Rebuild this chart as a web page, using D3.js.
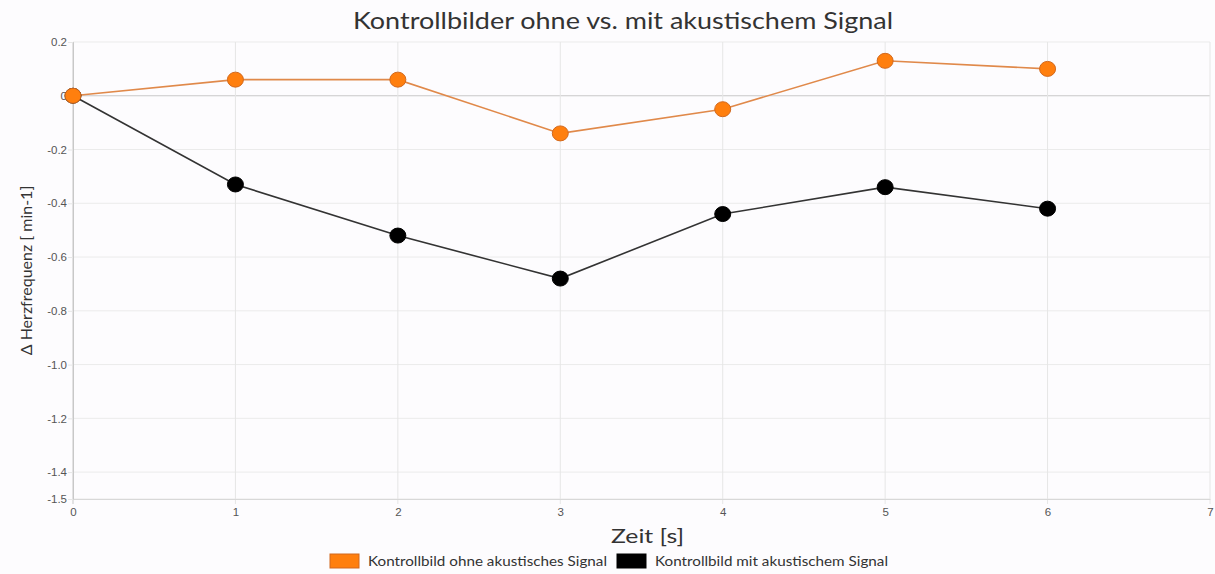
<!DOCTYPE html>
<html>
<head>
<meta charset="utf-8">
<script src="https://cdn.jsdelivr.net/npm/d3@7"></script>
<style>
  body { margin: 0; background: #fdfcfe; }
  svg { font-family: Lato, "Open Sans", sans-serif; }
</style>
</head>
<body>
<div id="chart"></div>
<script>
const width = 1215;
const height = 574;

const zeit = [0, 1, 2, 3, 4, 5, 6];
const ohneSignal = [0, 0.06, 0.06, -0.14, -0.05, 0.13, 0.10];
const mitSignal = [0, -0.33, -0.52, -0.68, -0.44, -0.34, -0.42];
const yTicks = [0.2, 0, -0.2, -0.4, -0.6, -0.8, -1.0, -1.2, -1.4, -1.5];
const yTickLabels = ["0.2", "0", "-0.2", "-0.4", "-0.6", "-0.8", "-1.0", "-1.2", "-1.4", "-1.5"];
const xTicks = [0, 1, 2, 3, 4, 5, 6, 7];

const series = [
    {name: "Kontrollbild ohne akustisches Signal", values: ohneSignal, fill: "#ff7f0e", stroke: "#d2691e", line: "#e0894a", textLen: 239},
    {name: "Kontrollbild mit akustischem Signal", values: mitSignal, fill: "#000000", stroke: "#000000", line: "#333333", textLen: 233}
];

const margin = {top: 42, right: 5, bottom: 75, left: 73};

const x = d3.scaleLinear().domain([0, 7]).range([margin.left, width - margin.right]);
const y = d3.scaleLinear().domain([-1.5, 0.2]).range([height - margin.bottom, margin.top]);

const svg = d3.select('#chart')
    .append('svg')
    .attr('width', width)
    .attr('height', height);

// grid
svg.append('g')
    .selectAll('line')
    .data(yTicks)
    .enter().append('line')
    .attr('x1', x(0)).attr('x2', x(7))
    .attr('y1', d => y(d)).attr('y2', d => y(d))
    .attr('stroke', d => d === 0 ? '#c8c8c8' : '#ebebeb')
    .attr('stroke-width', 1);

svg.append('g')
    .selectAll('line')
    .data(xTicks)
    .enter().append('line')
    .attr('x1', d => x(d)).attr('x2', d => x(d))
    .attr('y1', y(0.2)).attr('y2', y(-1.5) + 5)
    .attr('stroke', d => d === 0 ? '#c8c8c8' : '#e6e6e6');

// axes
const yAxis = d3.axisLeft(y)
    .tickValues(yTicks)
    .tickFormat((d, i) => yTickLabels[i])
    .tickSize(5);
svg.append('g')
    .attr('transform', `translate(${x(0)},0)`)
    .call(yAxis)
    .call(g => g.select('.domain').attr('stroke', '#c8c8c8'))
    .call(g => g.selectAll('.tick line').attr('stroke', '#e6e6e6'))
    .call(g => g.selectAll('.tick text').attr('fill', '#555').attr('font-size', 11.5).attr('x', -6));

const xAxis = d3.axisBottom(x)
    .tickValues(xTicks)
    .tickFormat(d3.format('d'))
    .tickSize(0);
svg.append('g')
    .attr('transform', `translate(0,${y(-1.5)})`)
    .call(xAxis)
    .call(g => g.select('.domain').attr('stroke', '#d8d8d8'))
    .call(g => g.selectAll('.tick text').attr('fill', '#555').attr('font-size', 11.5).attr('dy', '1.2em'));

// lines and markers (black first so orange sits on top)
const line = d3.line()
    .x((d, i) => x(zeit[i]))
    .y(d => y(d));

const drawOrder = series.slice().reverse();

drawOrder.forEach(s => {
    svg.append('path')
        .datum(s.values)
        .attr('fill', 'none')
        .attr('stroke', s.line)
        .attr('stroke-width', 1.6)
        .attr('d', line);
});

drawOrder.forEach(s => {
    svg.append('g')
        .selectAll('ellipse')
        .data(s.values)
        .enter().append('ellipse')
        .attr('cx', (d, i) => x(zeit[i]))
        .attr('cy', d => y(d))
        .attr('rx', 8)
        .attr('ry', 7.5)
        .attr('fill', s.fill)
        .attr('stroke', s.stroke)
        .attr('stroke-width', 1);
});

// title and labels
svg.append('text')
    .attr('x', 353)
    .attr('y', 29)
    .attr('font-size', 23)
    .attr('fill', '#333')
    .attr('textLength', 540)
    .attr('lengthAdjust', 'spacingAndGlyphs')
    .text('Kontrollbilder ohne vs. mit akustischem Signal');

svg.append('text')
    .attr('x', 611)
    .attr('y', 543)
    .attr('font-size', 19)
    .attr('fill', '#333')
    .attr('textLength', 73)
    .attr('lengthAdjust', 'spacingAndGlyphs')
    .text('Zeit [s]');

svg.append('text')
    .attr('transform', `translate(32, ${y(-0.65)}) rotate(-90)`)
    .attr('text-anchor', 'middle')
    .attr('font-size', 16)
    .attr('fill', '#333')
    .text('Δ Herzfrequenz [ min-1]');

// legend
const legend = svg.append('g').attr('transform', 'translate(330, 554)');
const legendX = [0, 287];
series.forEach((s, i) => {
    const g = legend.append('g').attr('transform', `translate(${legendX[i]},0)`);
    g.append('rect')
        .attr('width', 29).attr('height', 14)
        .attr('fill', s.fill)
        .attr('stroke', s.stroke);
    g.append('text')
        .attr('x', 38).attr('y', 12)
        .attr('font-size', 13.5)
        .attr('fill', '#333')
        .attr('textLength', s.textLen)
        .attr('lengthAdjust', 'spacingAndGlyphs')
        .text(s.name);
});
</script>
</body>
</html>
